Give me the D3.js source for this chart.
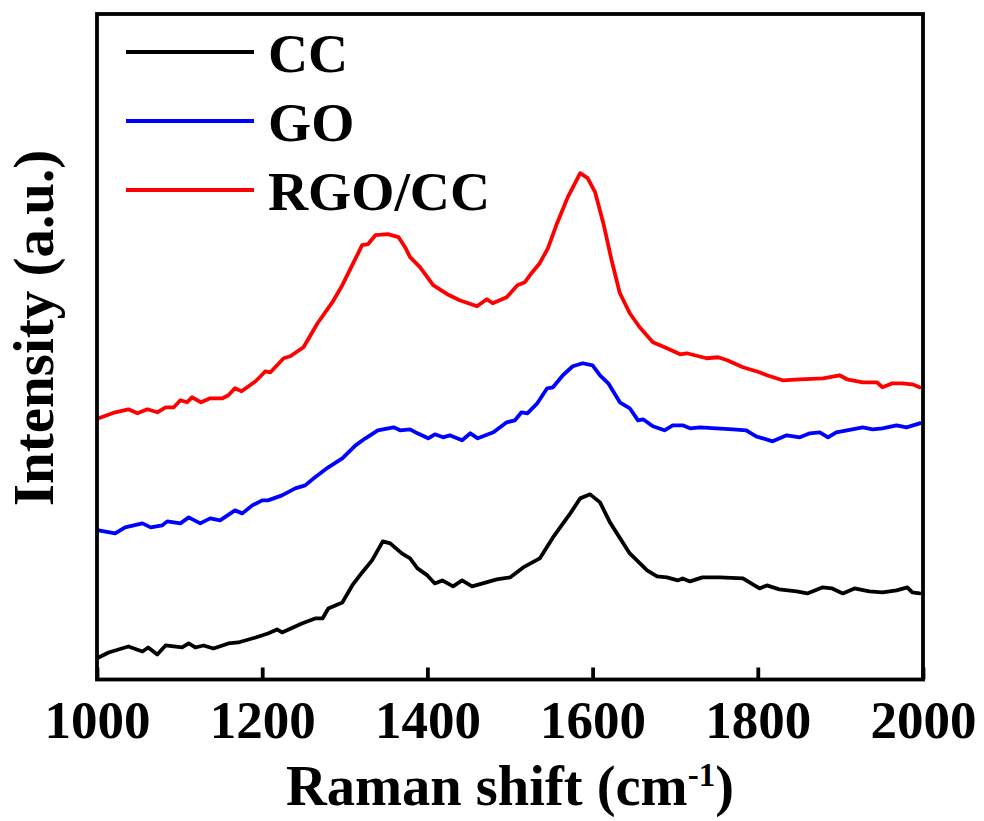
<!DOCTYPE html>
<html>
<head>
<meta charset="utf-8">
<script src="https://cdn.jsdelivr.net/npm/d3@7"></script>
<style>
  html, body { margin: 0; padding: 0; background: #fff; }
  svg { display: block; }
  text { font-family: "Liberation Serif", "Times New Roman", serif; font-weight: bold; fill: #000; }
</style>
</head>
<body>
<svg id="chart" width="984" height="821"></svg>
<script>
// ---- Data (Raman shift in cm^-1, intensity in arbitrary units) ----
const seriesNames = ["CC", "GO", "RGO/CC"];
const seriesColors = ["#000000", "#0000ff", "#ff0000"];
const xTicks = [1000, 1200, 1400, 1600, 1800, 2000];

const ccData = [
  [1002,22],[1014,27],[1038,33],[1055,28],[1062,32],[1073,25],[1083,34],[1103,32],[1111,36],[1119,32],
  [1129,34],[1141,31],[1159,36],[1171,37],[1192,42],[1207,46],[1218,50],[1224,47],[1248,56],[1264,61],
  [1273,61],[1280,71],[1297,77],[1309,94],[1321,107],[1333,119],[1346,138],[1355,136],[1369,126],[1379,121],
  [1388,111],[1400,104],[1409,96],[1418,99],[1431,93],[1442,99],[1454,93],[1467,96],[1484,100],[1500,102],
  [1516,112],[1536,121],[1552,142],[1573,166],[1585,181],[1597,185],[1609,177],[1621,157],[1645,126],[1666,109],
  [1678,103],[1690,102],[1703,99],[1709,101],[1718,98],[1733,102],[1754,102],[1782,101],[1802,91],[1811,94],
  [1826,90],[1847,88],[1860,86],[1878,92],[1890,91],[1903,86],[1917,91],[1935,88],[1951,87],[1968,89],
  [1981,92],[1987,87],[1996,86]
];

const goData = [
  [1002,149],[1022,146],[1034,152],[1055,156],[1065,152],[1079,154],[1085,158],[1101,156],[1111,162],[1125,156],
  [1137,161],[1149,159],[1167,169],[1176,166],[1188,174],[1200,179],[1207,179],[1224,184],[1240,191],[1252,194],
  [1264,202],[1280,212],[1297,221],[1313,234],[1325,241],[1340,249],[1359,252],[1367,249],[1379,250],[1388,246],
  [1401,241],[1409,245],[1419,242],[1427,244],[1442,239],[1452,246],[1461,241],[1480,247],[1496,257],[1506,259],
  [1514,267],[1521,266],[1533,276],[1545,291],[1552,292],[1564,304],[1576,313],[1588,316],[1600,314],[1609,304],
  [1619,296],[1633,277],[1645,271],[1655,259],[1661,260],[1673,253],[1687,249],[1697,254],[1709,254],[1718,251],
  [1730,252],[1750,251],[1770,250],[1786,249],[1798,243],[1818,238],[1835,244],[1851,242],[1863,246],[1875,247],
  [1885,242],[1895,247],[1908,249],[1927,252],[1939,250],[1951,251],[1968,254],[1980,252],[1996,256]
];

const rgoData = [
  [1002,261],[1022,267],[1038,270],[1049,266],[1061,270],[1073,267],[1083,272],[1093,272],[1101,279],[1109,277],
  [1115,282],[1126,277],[1137,281],[1152,281],[1159,284],[1167,291],[1175,288],[1192,298],[1204,308],[1210,307],
  [1226,321],[1234,323],[1250,332],[1267,356],[1285,377],[1297,394],[1309,414],[1321,434],[1328,435],[1337,444],
  [1352,445],[1365,442],[1373,432],[1379,422],[1391,412],[1407,394],[1424,385],[1439,379],[1460,373],[1472,380],
  [1479,376],[1496,382],[1509,394],[1518,397],[1527,407],[1536,416],[1546,431],[1557,456],[1570,482],[1585,506],
  [1594,501],[1603,487],[1613,456],[1623,419],[1633,386],[1645,366],[1657,352],[1673,337],[1690,331],[1706,325],
  [1714,326],[1738,321],[1752,322],[1763,319],[1782,312],[1802,307],[1811,304],[1830,299],[1851,300],[1879,301],
  [1899,304],[1908,300],[1927,297],[1944,297],[1951,292],[1963,296],[1975,296],[1987,295],[1996,292]
];

const allSeries = [ccData, goData, rgoData];

// ---- Layout ----
const svg = d3.select("#chart");
const plotLeft = 97, plotRight = 923, plotTop = 14, plotBottom = 679.5;

const x = d3.scaleLinear().domain([1000, 2000]).range([plotLeft, plotRight]);
const y = d3.scaleLinear().domain([0, 665]).range([plotBottom, plotTop]);

// curves
const line = d3.line().x(d => x(d[0])).y(d => y(d[1])).curve(d3.curveLinear);
svg.append("g").selectAll("path")
  .data(allSeries)
  .join("path")
  .attr("d", d => line(d))
  .attr("fill", "none")
  .attr("stroke", (d, i) => seriesColors[i])
  .attr("stroke-width", 3.8)
  .attr("stroke-linejoin", "round")
  .attr("stroke-linecap", "round");

// frame
svg.append("rect")
  .attr("x", plotLeft).attr("y", plotTop)
  .attr("width", plotRight - plotLeft).attr("height", plotBottom - plotTop)
  .attr("fill", "none").attr("stroke", "#000").attr("stroke-width", 3.8);

// bottom axis with inward ticks
const xAxis = d3.axisBottom(x).tickValues(xTicks).tickFormat(d3.format("d"))
  .tickSizeInner(-12).tickSizeOuter(0).tickPadding(21);
const gx = svg.append("g").attr("transform", `translate(0,${plotBottom})`).call(xAxis);
gx.select(".domain").remove();
gx.selectAll(".tick line").attr("stroke", "#000").attr("stroke-width", 3.8);
gx.selectAll(".tick text")
  .attr("font-family", "'Liberation Serif', 'Times New Roman', serif")
  .attr("font-weight", "bold").attr("font-size", 53).attr("fill", "#000");

// x title
const xt = svg.append("text")
  .attr("x", (plotLeft + plotRight) / 2).attr("y", 805)
  .attr("text-anchor", "middle").attr("font-size", 56.5);
xt.append("tspan").text("Raman shift (cm");
xt.append("tspan").attr("font-size", 33).attr("dy", -19).text("-1");
xt.append("tspan").attr("dy", 19).text(")");

// y title
svg.append("text")
  .attr("transform", "translate(53,328) rotate(-90)")
  .attr("text-anchor", "middle").attr("font-size", 57)
  .text("Intensity (a.u.)");

// legend
const legendY = [52, 121, 190];
const lg = svg.append("g").selectAll("g")
  .data(seriesNames)
  .join("g")
  .attr("transform", (d, i) => `translate(0,${legendY[i]})`);
lg.append("line")
  .attr("x1", 126).attr("x2", 254).attr("y1", 0).attr("y2", 0)
  .attr("stroke", (d, i) => seriesColors[i]).attr("stroke-width", 3.8);
lg.append("text")
  .attr("x", 268).attr("y", 20)
  .attr("font-size", 55.5)
  .text(d => d);
</script>
</body>
</html>
